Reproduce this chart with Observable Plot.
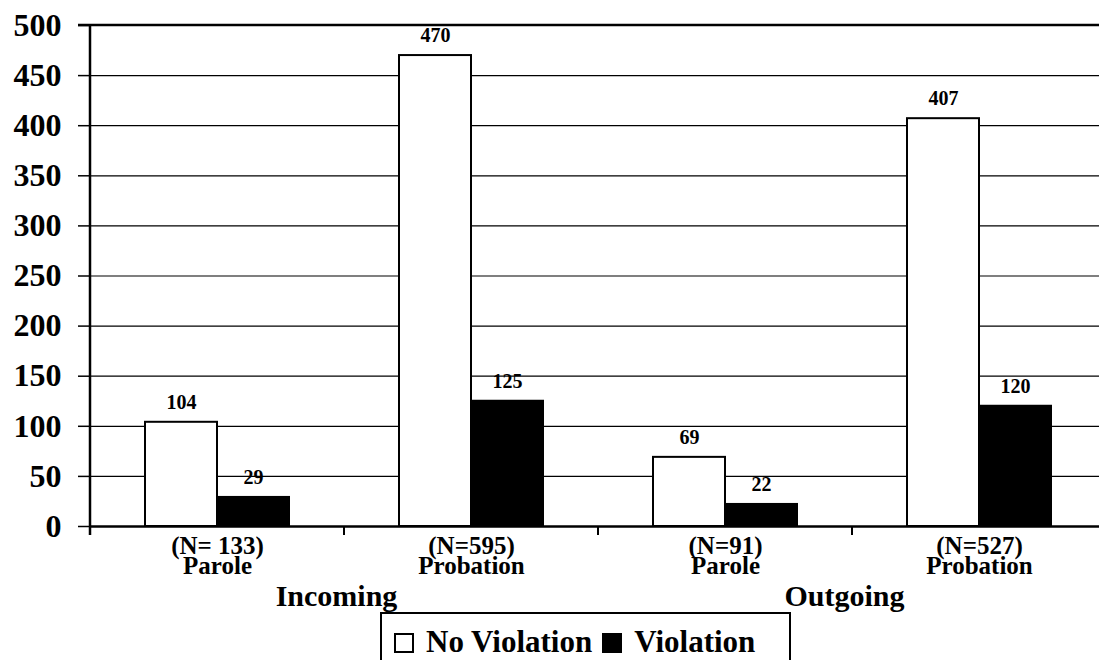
<!DOCTYPE html>
<html>
<head>
<meta charset="utf-8">
<script src="https://cdn.jsdelivr.net/npm/d3@7"></script>
<script src="https://cdn.jsdelivr.net/npm/@observablehq/plot@0.6"></script>
<style>
  html, body { margin: 0; padding: 0; background: #fff; overflow: hidden; }
  body { width: 1099px; height: 660px; font-family: "Liberation Serif", "Times New Roman", serif; }
  #chart svg { display: block; overflow: visible; }
  #legend {
    position: absolute; left: 380px; top: 612px; width: 411px; height: 60px;
    border: 2px solid #000; box-sizing: border-box; background: #fff;
    font: bold 31px "Liberation Serif", serif; color: #000;
    display: flex; align-items: flex-start; padding: 12px 0 0 12px; white-space: nowrap;
  }
  .sw { display: inline-block; width: 20px; height: 20px; box-sizing: border-box; border: 2px solid #000; margin-right: 12px; margin-top: 7px; }
  .item { display: flex; align-items: flex-start; margin-right: 10px; line-height: 31px; }
</style>
</head>
<body>
<div id="chart"></div>
<div id="legend"></div>
<script>
const groups = ["Incoming", "Incoming", "Outgoing", "Outgoing"];
const types = ["Parole", "Probation", "Parole", "Probation"];
const nLabels = ["(N= 133)", "(N=595)", "(N=91)", "(N=527)"];
const series = ["No Violation", "Violation"];
const noViolation = [104, 470, 69, 407];
const violation = [29, 125, 22, 120];
const yTicks = [0, 50, 100, 150, 200, 250, 300, 350, 400, 450, 500];
const groupNames = ["Incoming", "Outgoing"];
const seriesColors = ["#ffffff", "#000000"];

const cats = types.map((t, i) => i);
const rows = [];
cats.forEach(i => {
  rows.push({cat: i, series: series[0], value: noViolation[i]});
  rows.push({cat: i, series: series[1], value: violation[i]});
});
const groupRows = groupNames.map(g => ({name: g, cat: cats.find(i => groups[i] === g && types[i] === "Probation")}));

const font = "Liberation Serif";
const plot = Plot.plot({
  width: 1099,
  height: 612,
  marginLeft: 89,
  marginRight: -8,
  marginTop: 25,
  marginBottom: 86,
  style: {fontFamily: font, fontWeight: "bold", color: "#000", background: "#fff"},
  fx: {domain: cats, padding: 0, label: null, axis: null},
  x: {domain: series, paddingInner: 0, paddingOuter: 0.743, axis: null},
  y: {domain: [0, 500], label: null},
  color: {domain: series, range: seriesColors},
  marks: [
    Plot.gridY({ticks: yTicks, stroke: "#000", strokeOpacity: 1, strokeWidth: 1.2}),
    Plot.axisY({ticks: yTicks, tickSize: 12, tickPadding: 17, fontSize: 32, fontWeight: "bold", label: null, strokeWidth: 1.5}),
    Plot.axisFx({anchor: "bottom", tickSize: 0, tickPadding: 13, fontSize: 25, lineHeight: 0.8, fontWeight: "bold",
      tickFormat: i => nLabels[i] + "\n" + types[i], label: null}),
    Plot.barY(rows, {fx: "cat", x: "series", y: "value", fill: "series", stroke: "#000", strokeWidth: 2}),
    Plot.text(rows, {fx: "cat", x: "series", y: "value", text: d => String(d.value), dy: -20, fontSize: 20, fontWeight: "bold", fill: "#000"}),
    Plot.ruleY([0], {stroke: "#000", strokeWidth: 2.5}),
    Plot.text(groupRows, {fx: "cat", text: "name", frameAnchor: "bottom-left", textAnchor: "middle", dx: -8, dy: 79, fontSize: 30, fontWeight: "bold", fill: "#000"})
  ]
});
document.getElementById("chart").appendChild(plot);

// axis line and category boundary ticks derived from Plot's own scales
const fx = plot.scale("fx"), y = plot.scale("y");
const svg = d3.select(plot);
const y0 = y.apply(0), yTop = y.apply(500);
const g = svg.append("g").attr("stroke", "#000");
g.append("line").attr("x1", fx.apply(cats[0])).attr("x2", fx.apply(cats[0]))
  .attr("y1", yTop).attr("y2", y0 + 9).attr("stroke-width", 2.5);
cats.forEach(c => {
  g.append("line").attr("x1", fx.apply(c)).attr("x2", fx.apply(c))
    .attr("y1", y0).attr("y2", y0 + 9).attr("stroke-width", 2);
});
g.append("line").attr("x1", fx.apply(cats[0]) - 12).attr("x2", 1099)
  .attr("y1", yTop).attr("y2", yTop).attr("stroke-width", 2.5);

// legend
const legend = document.getElementById("legend");
series.forEach((s, i) => {
  const item = document.createElement("span");
  item.className = "item";
  const sw = document.createElement("span");
  sw.className = "sw";
  sw.style.background = seriesColors[i];
  item.appendChild(sw);
  item.appendChild(document.createTextNode(s));
  legend.appendChild(item);
});
</script>
</body>
</html>
